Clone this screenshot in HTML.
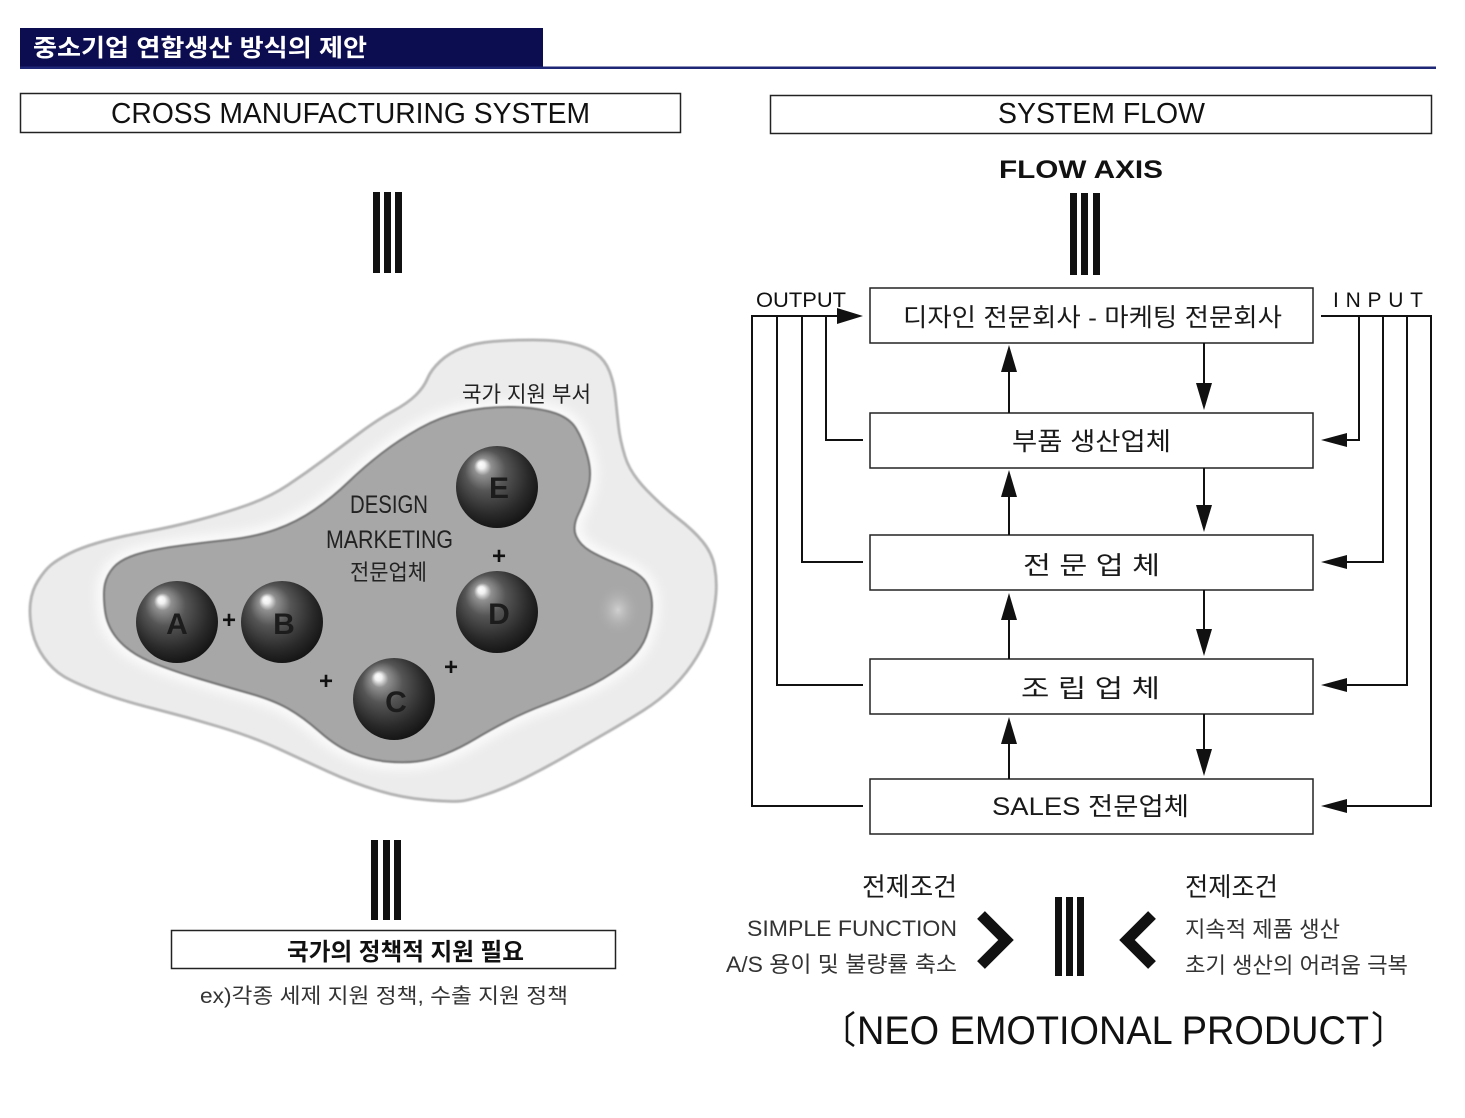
<!DOCTYPE html>
<html>
<head>
<meta charset="utf-8">
<style>
  html,body{margin:0;padding:0;background:#fff;}
  svg{display:block;}
  .lat{font-family:"Liberation Sans","Noto Sans CJK KR",sans-serif;}
  .kr{font-family:"Liberation Sans","Noto Sans CJK KR",sans-serif;}
</style>
</head>
<body>
<svg width="1465" height="1118" viewBox="0 0 1465 1118" xmlns="http://www.w3.org/2000/svg">
  <defs>
    <radialGradient id="sph" cx="0.45" cy="0.42" r="0.62" fx="0.3" fy="0.22">
      <stop offset="0" stop-color="#ffffff"/>
      <stop offset="0.07" stop-color="#f0f0f0"/>
      <stop offset="0.17" stop-color="#909090"/>
      <stop offset="0.4" stop-color="#555555"/>
      <stop offset="0.75" stop-color="#2a2a2a"/>
      <stop offset="1" stop-color="#111111"/>
    </radialGradient>
    <filter id="blur5" x="-10%" y="-10%" width="120%" height="120%">
      <feGaussianBlur stdDeviation="5"/>
    </filter>
    <filter id="blur1" x="-10%" y="-10%" width="120%" height="120%">
      <feGaussianBlur stdDeviation="0.8"/>
    </filter>
    <radialGradient id="spot" cx="0.5" cy="0.5" r="0.5">
      <stop offset="0" stop-color="#d0d0d0"/>
      <stop offset="1" stop-color="#a8a8a8" stop-opacity="0"/>
    </radialGradient>
    <path id="outerBlob" d="M392.5,411.5 Q408,403 416,395 Q424,387 427.5,378.5 Q431,370 440,361.5 Q449,353 462,348 Q475,343 493,341.5 Q511,340 533.5,340 Q556,340 571.5,343.5 Q587,347 596,353.5 Q605,360 609.5,371.5 Q614,383 615.5,398 Q617,413 618.5,426.5 Q620,440 625,456.5 Q630,473 646.5,490 Q663,507 678,518.5 Q693,530 702.5,541.5 Q712,553 714.5,566.5 Q717,580 716,593.5 Q715,607 711,623.5 Q707,640 697,656.5 Q687,673 673.5,686.5 Q660,700 642.5,711 Q625,722 605,733.5 Q585,745 565,756.5 Q545,768 525,778 Q505,788 487.5,794 Q470,800 461.5,801 Q453,802 428,800 Q403,798 378,790.5 Q353,783 328,771.5 Q303,760 278,748.5 Q253,737 220,727 Q187,717 153.5,708.5 Q120,700 97.5,691.5 Q75,683 64,676.5 Q53,670 44,657.5 Q35,645 32,630 Q29,615 30.5,602.5 Q32,590 38.5,580 Q45,570 51,565 Q57,560 68.5,554 Q80,548 99,542.5 Q118,537 145,532 Q172,527 198.5,520 Q225,513 247.5,505 Q270,497 288,485 Q306,473 323.5,460 Q341,447 359,433.5 Q377,420 392.5,411.5 Z"/>
    <path id="innerBlob" d="M105,610 Q103,593 105,584 Q107,575 113.5,567.5 Q120,560 135,555 Q150,550 175,546.5 Q200,543 227.5,540 Q255,537 276,529.5 Q297,522 315,509.5 Q333,497 348.5,482 Q364,467 381.5,453.5 Q399,440 419.5,428.5 Q440,417 462,412 Q484,407 508.5,407 Q533,407 551,412 Q569,417 576,428.5 Q583,440 587.5,456.5 Q592,473 588.5,486.5 Q585,500 578.5,513.5 Q572,527 576,536 Q580,545 590,551 Q600,557 620,565 Q640,573 646,582.5 Q652,592 652,606 Q652,620 646,636.5 Q640,653 621.5,666.5 Q603,680 584,688.5 Q565,697 545,704.5 Q525,712 507.5,721 Q490,730 475,739 Q460,748 445,754 Q430,760 416.5,761.5 Q403,763 386.5,761.5 Q370,760 353.5,753.5 Q337,747 320,732 Q303,717 288,708.5 Q273,700 250,693.5 Q227,687 198.5,678.5 Q170,670 150,661.5 Q130,653 118.5,640 Q107,627 105,610 Z"/>
  </defs>

  <!-- Header -->
  <rect x="20" y="28" width="523" height="39" fill="#0c0c50"/>
  <rect x="20" y="66.5" width="1416" height="2.5" fill="#1e2676"/>
  <text x="33" y="56" class="kr" font-size="24" font-weight="bold" fill="#ffffff" textLength="334" lengthAdjust="spacingAndGlyphs">중소기업 연합생산 방식의 제안</text>

  <!-- Title boxes -->
  <rect x="20.5" y="93.5" width="660" height="39" fill="none" stroke="#222" stroke-width="1.5"/>
  <text x="111" y="123" class="lat" font-size="29" fill="#111" textLength="479" lengthAdjust="spacingAndGlyphs">CROSS  MANUFACTURING  SYSTEM</text>

  <rect x="770.5" y="95.5" width="661" height="38" fill="none" stroke="#222" stroke-width="1.5"/>
  <text x="998" y="123" class="lat" font-size="29" fill="#111" textLength="207" lengthAdjust="spacingAndGlyphs">SYSTEM  FLOW</text>

  <text x="999" y="178" class="lat" font-size="25" font-weight="bold" fill="#111" textLength="164" lengthAdjust="spacingAndGlyphs">FLOW  AXIS</text>

  <!-- triple bars -->
  <g fill="#111">
    <rect x="373" y="192" width="7" height="81"/>
    <rect x="384" y="192" width="7" height="81"/>
    <rect x="395" y="192" width="7" height="81"/>

    <rect x="1070" y="193" width="7" height="82"/>
    <rect x="1081" y="193" width="7" height="82"/>
    <rect x="1093" y="193" width="7" height="82"/>

    <rect x="371" y="840" width="7" height="80"/>
    <rect x="383" y="840" width="7" height="80"/>
    <rect x="394" y="840" width="7" height="80"/>

    <rect x="1055" y="897" width="7" height="79"/>
    <rect x="1066" y="897" width="7" height="79"/>
    <rect x="1077" y="897" width="7" height="79"/>
  </g>

  <!-- Blob: outer -->
  <use href="#outerBlob" fill="#ececec" stroke="#b4b4b4" stroke-width="3" filter="url(#blur1)"/>
  <!-- inner white glow -->
  <use href="#innerBlob" fill="#f8f8f8" stroke="#fafafa" stroke-width="16" filter="url(#blur5)"/>
  <!-- inner gray -->
  <use href="#innerBlob" fill="#a7a7a7" stroke="#6e6e6e" stroke-width="2" filter="url(#blur1)"/>
  <ellipse cx="618" cy="610" rx="22" ry="26" fill="url(#spot)"/>

  <text x="462" y="402" class="kr" font-size="22" fill="#222" textLength="129" lengthAdjust="spacingAndGlyphs">국가 지원 부서</text>

  <text x="350" y="513" class="lat" font-size="25" fill="#222" textLength="78" lengthAdjust="spacingAndGlyphs">DESIGN</text>
  <text x="326" y="548" class="lat" font-size="25" fill="#222" textLength="127" lengthAdjust="spacingAndGlyphs">MARKETING</text>
  <text x="350" y="580" class="kr" font-size="22" fill="#222" textLength="77" lengthAdjust="spacingAndGlyphs">전문업체</text>

  <!-- spheres -->
  <g>
    <circle cx="177" cy="622" r="41" fill="url(#sph)"/>
    <circle cx="282" cy="622" r="41" fill="url(#sph)"/>
    <circle cx="497" cy="487" r="41" fill="url(#sph)"/>
    <circle cx="497" cy="612" r="41" fill="url(#sph)"/>
    <circle cx="394" cy="699" r="41" fill="url(#sph)"/>
  </g>
  <g class="lat" font-size="30" font-weight="bold" fill="#1c1c1c" text-anchor="middle">
    <text x="177" y="634">A</text>
    <text x="284" y="634">B</text>
    <text x="499" y="498">E</text>
    <text x="499" y="624">D</text>
    <text x="396" y="712">C</text>
  </g>
  <!-- plus signs -->
  <g class="lat" font-size="24" font-weight="bold" fill="#111" text-anchor="middle">
    <text x="229" y="628">+</text>
    <text x="499" y="564">+</text>
    <text x="326" y="689">+</text>
    <text x="451" y="675">+</text>
  </g>

  <!-- bottom left box -->
  <rect x="171.5" y="930.5" width="444" height="38" fill="none" stroke="#222" stroke-width="1.5"/>
  <text x="287" y="960" class="kr" font-size="24" font-weight="bold" fill="#111" textLength="237" lengthAdjust="spacingAndGlyphs">국가의 정책적 지원 필요</text>
  <text x="200" y="1003" class="kr" font-size="21" fill="#333" textLength="368" lengthAdjust="spacingAndGlyphs">ex)각종 세제 지원 정책, 수출 지원 정책</text>

  <!-- Flow boxes -->
  <g fill="#fff" stroke="#222" stroke-width="1.5">
    <rect x="870" y="288" width="443" height="55"/>
    <rect x="870" y="413" width="443" height="55"/>
    <rect x="870" y="535" width="443" height="55"/>
    <rect x="870" y="659" width="443" height="55"/>
    <rect x="870" y="779" width="443" height="55"/>
  </g>
  <g class="kr" font-size="25" fill="#1a1a1a">
    <text x="903" y="326" textLength="379" lengthAdjust="spacingAndGlyphs">디자인 전문회사 - 마케팅 전문회사</text>
    <text x="1012" y="450" textLength="159" lengthAdjust="spacingAndGlyphs">부품  생산업체</text>
    <text x="1023" y="574" textLength="137" lengthAdjust="spacingAndGlyphs">전 문   업 체</text>
    <text x="1021" y="697" textLength="139" lengthAdjust="spacingAndGlyphs">조 립   업 체</text>
    <text x="992" y="815" textLength="197" lengthAdjust="spacingAndGlyphs">SALES  전문업체</text>
  </g>

  <!-- vertical arrows between boxes -->
  <g stroke="#111" stroke-width="2" fill="none">
    <line x1="1009" y1="413" x2="1009" y2="370"/>
    <line x1="1204" y1="343" x2="1204" y2="385"/>
    <line x1="1009" y1="535" x2="1009" y2="495"/>
    <line x1="1204" y1="468" x2="1204" y2="508"/>
    <line x1="1009" y1="659" x2="1009" y2="618"/>
    <line x1="1204" y1="590" x2="1204" y2="632"/>
    <line x1="1009" y1="779" x2="1009" y2="740"/>
    <line x1="1204" y1="714" x2="1204" y2="752"/>
  </g>
  <g fill="#111">
    <polygon points="1009,345 1001,372 1017,372"/>
    <polygon points="1204,410 1196,383 1212,383"/>
    <polygon points="1009,470 1001,497 1017,497"/>
    <polygon points="1204,532 1196,505 1212,505"/>
    <polygon points="1009,593 1001,620 1017,620"/>
    <polygon points="1204,656 1196,629 1212,629"/>
    <polygon points="1009,717 1001,744 1017,744"/>
    <polygon points="1204,776 1196,749 1212,749"/>
  </g>

  <!-- OUTPUT lines -->
  <text x="756" y="307" class="lat" font-size="21" fill="#111" textLength="90" lengthAdjust="spacingAndGlyphs">OUTPUT</text>
  <g stroke="#111" stroke-width="2" fill="none" stroke-linejoin="miter">
    <polyline points="840,316 752,316 752,806 863,806"/>
    <polyline points="777,316 777,685 863,685"/>
    <polyline points="802,316 802,562 863,562"/>
    <polyline points="826,316 826,440 863,440"/>
  </g>
  <polygon points="863,316 837,308 837,324" fill="#111"/>

  <!-- INPUT lines -->
  <text x="1333" y="307" class="lat" font-size="21" fill="#111" textLength="90" lengthAdjust="spacing">INPUT</text>
  <g stroke="#111" stroke-width="2" fill="none">
    <polyline points="1321,316 1431,316 1431,806 1345,806"/>
    <polyline points="1359,316 1359,440 1345,440"/>
    <polyline points="1383,316 1383,562 1345,562"/>
    <polyline points="1407,316 1407,685 1345,685"/>
  </g>
  <g fill="#111">
    <polygon points="1321,440 1347,433 1347,447"/>
    <polygon points="1321,562 1347,555 1347,569"/>
    <polygon points="1321,685 1347,678 1347,692"/>
    <polygon points="1321,806 1347,799 1347,813"/>
  </g>

  <!-- bottom right -->
  <text x="957" y="896" class="kr" font-size="26" fill="#1a1a1a" text-anchor="end" textLength="95" lengthAdjust="spacingAndGlyphs">전제조건</text>
  <text x="957" y="936" class="lat" font-size="22" fill="#333" text-anchor="end" textLength="210" lengthAdjust="spacingAndGlyphs">SIMPLE FUNCTION</text>
  <text x="957" y="972" class="kr" font-size="22" fill="#333" text-anchor="end" textLength="231" lengthAdjust="spacingAndGlyphs">A/S 용이 및 불량률 축소</text>

  <text x="1185" y="896" class="kr" font-size="26" fill="#1a1a1a" textLength="93" lengthAdjust="spacingAndGlyphs">전제조건</text>
  <text x="1185" y="937" class="kr" font-size="22" fill="#333" textLength="155" lengthAdjust="spacingAndGlyphs">지속적 제품 생산</text>
  <text x="1185" y="973" class="kr" font-size="22" fill="#333" textLength="223" lengthAdjust="spacingAndGlyphs">초기 생산의 어려움 극복</text>

  <polyline points="981,915 1006,940 981,965" fill="none" stroke="#111" stroke-width="11" stroke-linejoin="miter"/>
  <polyline points="1152,915 1127,940 1152,965" fill="none" stroke="#111" stroke-width="11" stroke-linejoin="miter"/>

  <path d="M854,1012 L847,1017 L847,1041 L854,1046" fill="none" stroke="#111" stroke-width="2.5"/>
  <path d="M1373,1012 L1380,1017 L1380,1041 L1373,1046" fill="none" stroke="#111" stroke-width="2.5"/>
  <text x="857" y="1044" class="lat" font-size="40" fill="#111" textLength="512" lengthAdjust="spacingAndGlyphs">NEO EMOTIONAL PRODUCT</text>
</svg>
</body>
</html>
